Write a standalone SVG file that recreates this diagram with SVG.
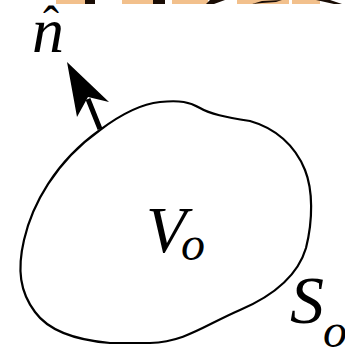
<svg xmlns="http://www.w3.org/2000/svg" width="345" height="348" viewBox="0 0 345 348">
<style>
.lbl{font-family:"Liberation Serif","Times New Roman",serif;font-style:italic;fill:#000}
.or{fill:#f2c08c}
.bk{fill:#1a0d05}
</style>
<rect width="345" height="348" fill="#fff"/>
<g id="topstrip">
<rect class="or" x="56" y="0" width="29" height="4"/>
<rect class="bk" x="85" y="0" width="10" height="4"/>
<rect class="or" x="122" y="0" width="31" height="4"/>
<rect class="bk" x="153" y="0" width="12" height="4"/>
<rect class="or" x="172" y="0" width="36" height="4"/>
<polygon class="bk" points="210,0 225,0 214,4 206,4"/>
<rect class="or" x="237" y="0" width="52" height="4"/>
<polygon class="bk" points="252,4 262,1 282,0 276,2 262,3"/>
<rect class="or" x="292" y="0" width="28" height="4"/>
<polygon class="bk" points="316,0 330,0 342,4 334,4"/>
</g>
<g id="surface">
<path d="M100,130 C120,115 140,104 160,102 C180,100 190,102 200,108 C210,114 225,117 250,121 C275,128 295,145 305,170 C313,190 313,220 306,248 C298,275 275,295 240,310 C205,325 185,342 150,343 L110,343 C75,340 48,330 35,312 C20,292 17,270 24,240 C32,205 55,162 100,130 Z" fill="none" stroke="#000" stroke-width="2.2"/>
</g>
<g id="connectors">
<line x1="100" y1="129" x2="88" y2="99" stroke="#000" stroke-width="5"/>
<polygon points="67,62 109,102 88,97 77,117" fill="#000"/>
</g>
<g id="labels">
<text class="lbl" x="32" y="52" font-size="64">n</text>
<text x="43" y="40" font-size="48" font-family="Liberation Serif,serif" fill="#000">ˆ</text>
<text class="lbl" x="146" y="252" font-size="66">V</text>
<text class="lbl" x="181" y="260" font-size="48">o</text>
<text class="lbl" x="290" y="323" font-size="68">S</text>
<text class="lbl" x="323" y="347" font-size="48">o</text>
</g>
</svg>
